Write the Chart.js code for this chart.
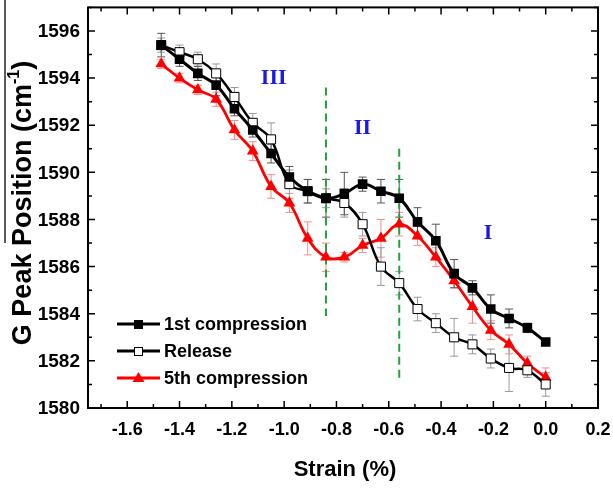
<!DOCTYPE html>
<html>
<head>
<meta charset="utf-8">
<script src="https://cdn.jsdelivr.net/npm/chart.js@4.4.1/dist/chart.umd.min.js"></script>
<style>
  html, body { margin: 0; padding: 0; background: #fff; }
  #wrap { width: 613px; height: 489px; }
</style>
</head>
<body>
<div id="wrap"><canvas id="gpeak" width="613" height="489"></canvas></div>
<script>
// strain values (%) shared by all three curves
const strain = [-1.47, -1.40, -1.33, -1.26, -1.19, -1.12, -1.05, -0.98, -0.91, -0.84, -0.77,
                -0.70, -0.63, -0.56, -0.49, -0.42, -0.35, -0.28, -0.21, -0.14, -0.07, 0.00];

// G peak position (cm-1)
const firstComp = [1595.4, 1594.8, 1594.2, 1593.7, 1592.7, 1591.8, 1590.8, 1589.8, 1589.2, 1588.9, 1589.1,
                   1589.5, 1589.2, 1588.9, 1587.9, 1587.1, 1585.7, 1585.1, 1584.2, 1583.8, 1583.4, 1582.8];
const release   = [1595.4, 1595.1, 1594.8, 1594.2, 1593.2, 1592.1, 1591.4, 1589.5, 1589.2, 1588.9, 1588.7,
                   1587.8, 1586.0, 1585.3, 1584.2, 1583.6, 1583.0, 1582.7, 1582.1, 1581.7, 1581.6, 1581.0];
const fifthComp = [1594.6, 1594.0, 1593.5, 1593.1, 1591.8, 1590.9, 1589.4, 1588.7, 1587.2, 1586.4, 1586.4,
                   1586.9, 1587.2, 1587.8, 1587.3, 1586.4, 1585.4, 1584.3, 1583.3, 1582.7, 1581.9, 1581.3];

// error bar half-heights
const firstErr = [0.5, 0.3, 0.3, 0.45, 0.3, 0.3, 0.4, 0.45, 0.5, 0.8, 0.9,
                  0.3, 0.5, 0.8, 0.6, 0.7, 0.6, 0.3, 0.6, 0.4, 0.2, 0.1];
const releaseErr = [0.3, 0.3, 0.3, 0.4, 0.4, 0.4, 0.7, 0.6, 0.5, 0.4, 0.6,
                    0.5, 0.8, 0.5, 0.5, 0.4, 0.8, 0.4, 0.4, 1.0, 0.3, 0.5];
const fifthErr = [0.2, 0.2, 0.2, 0.3, 0.4, 0.4, 0.5, 0.4, 0.7, 0.6, 0.2,
                  0.3, 0.8, 0.5, 0.4, 0.4, 0.3, 0.7, 0.4, 0.4, 0.3, 0.4];

const seriesNames = ["1st compression", "Release", "5th compression"];

// axis ticks
const xTicks = [-1.6, -1.4, -1.2, -1.0, -0.8, -0.6, -0.4, -0.2, 0.0, 0.2];
const xMinor = [-1.7, -1.5, -1.3, -1.1, -0.9, -0.7, -0.5, -0.3, -0.1, 0.1];
const yTicks = [1580, 1582, 1584, 1586, 1588, 1590, 1592, 1594, 1596];
const yMinor = [1581, 1583, 1585, 1587, 1589, 1591, 1593, 1595, 1597];

// region markers: dashed boundaries and roman numerals
const boundaries = [
    { x: -0.84, from: 1583.9, to: 1593.6 },
    { x: -0.56, from: 1581.2, to: 1591.0 }
];
const regions = [
    { text: "III", x: -1.04, y: 1594.0 },
    { text: "II", x: -0.70, y: 1591.85 },
    { text: "I", x: -0.22, y: 1587.4 }
];

const SANS = "'Liberation Sans', Arial, sans-serif";
const SERIF = "'Liberation Serif', 'Times New Roman', serif";

function pts(ys) {
    return strain.map((x, i) => ({ x: x, y: ys[i] }));
}

const overlay = {
    id: "overlay",
    beforeDatasetsDraw(chart) {
        const ctx = chart.ctx;
        const xs = chart.scales.x, ys = chart.scales.y;
        // error bars under the markers
        const bars = [
            { vals: fifthComp, err: fifthErr, color: "#f58c8c" },
            { vals: release, err: releaseErr, color: "#9a9a9a" },
            { vals: firstComp, err: firstErr, color: "#555" }
        ];
        ctx.save();
        ctx.lineWidth = 1;
        bars.forEach(b => {
            ctx.strokeStyle = b.color;
            strain.forEach((s, i) => {
                const px = xs.getPixelForValue(s);
                const top = ys.getPixelForValue(b.vals[i] + b.err[i]);
                const bot = ys.getPixelForValue(b.vals[i] - b.err[i]);
                ctx.beginPath();
                ctx.moveTo(px, top); ctx.lineTo(px, bot);
                ctx.moveTo(px - 4, top); ctx.lineTo(px + 4, top);
                ctx.moveTo(px - 4, bot); ctx.lineTo(px + 4, bot);
                ctx.stroke();
            });
        });
        // green dashed boundaries
        ctx.strokeStyle = "#23a33a";
        ctx.lineWidth = 2;
        ctx.setLineDash([8, 5]);
        boundaries.forEach(b => {
            const px = xs.getPixelForValue(b.x);
            ctx.beginPath();
            ctx.moveTo(px, ys.getPixelForValue(b.to));
            ctx.lineTo(px, ys.getPixelForValue(b.from));
            ctx.stroke();
        });
        ctx.restore();
    },
    afterDraw(chart) {
        const ctx = chart.ctx;
        const a = chart.chartArea;
        const xs = chart.scales.x, ys = chart.scales.y;
        ctx.save();

        // frame
        ctx.strokeStyle = "#000";
        ctx.lineWidth = 2;
        ctx.strokeRect(a.left, a.top, a.right - a.left, a.bottom - a.top);

        // inward ticks on all four sides
        ctx.lineWidth = 1.5;
        ctx.beginPath();
        const xt = (v, len) => {
            const px = xs.getPixelForValue(v);
            ctx.moveTo(px, a.bottom); ctx.lineTo(px, a.bottom - len);
            ctx.moveTo(px, a.top); ctx.lineTo(px, a.top + len);
        };
        const yt = (v, len) => {
            const py = ys.getPixelForValue(v);
            ctx.moveTo(a.left, py); ctx.lineTo(a.left + len, py);
            ctx.moveTo(a.right, py); ctx.lineTo(a.right - len, py);
        };
        xTicks.forEach(v => xt(v, 7));
        xMinor.forEach(v => xt(v, 4));
        yTicks.forEach(v => yt(v, 7));
        yMinor.forEach(v => yt(v, 4));
        ctx.stroke();

        // tick labels
        ctx.fillStyle = "#000";
        ctx.font = "bold 18px " + SANS;
        ctx.textAlign = "center";
        ctx.textBaseline = "middle";
        xTicks.forEach(v => ctx.fillText(v.toFixed(1), xs.getPixelForValue(v), a.bottom + 22));
        ctx.font = "bold 19px " + SANS;
        ctx.textAlign = "right";
        yTicks.forEach(v => ctx.fillText(String(v), a.left - 8, ys.getPixelForValue(v) + 1));

        // region numerals
        ctx.fillStyle = "#1a1ae6";
        ctx.font = "bold 22px " + SERIF;
        ctx.textAlign = "center";
        regions.forEach(r => {
            ctx.fillText(r.text, xs.getPixelForValue(r.x), ys.getPixelForValue(r.y));
        });

        // legend
        const rows = [324, 351, 378];
        const colors = ["#000", "#000", "#ff0000"];
        const styles = ["rect", "openrect", "triangle"];
        rows.forEach((ry, i) => {
            ctx.strokeStyle = colors[i];
            ctx.lineWidth = 3;
            ctx.beginPath();
            ctx.moveTo(117, ry); ctx.lineTo(160, ry);
            ctx.stroke();
            if (styles[i] === "rect") {
                ctx.fillStyle = "#000";
                ctx.fillRect(134, ry - 4, 9, 9);
            } else if (styles[i] === "openrect") {
                ctx.fillStyle = "#fff";
                ctx.fillRect(134, ry - 4, 9, 9);
                ctx.lineWidth = 1;
                ctx.strokeRect(134.5, ry - 3.5, 8, 8);
            } else {
                ctx.fillStyle = "#ff0000";
                ctx.beginPath();
                ctx.moveTo(138.5, ry - 6); ctx.lineTo(144.5, ry + 4); ctx.lineTo(132.5, ry + 4);
                ctx.closePath();
                ctx.fill();
            }
            ctx.fillStyle = "#000";
            ctx.font = "bold 18px " + SANS;
            ctx.textAlign = "left";
            ctx.fillText(seriesNames[i], 164, ry + 1);
        });

        // x title
        ctx.font = "bold 22px " + SANS;
        ctx.textAlign = "center";
        ctx.fillText("Strain (%)", 345, 470);

        // y title with superscript
        ctx.translate(24, 203);
        ctx.rotate(-Math.PI / 2);
        const main = "G Peak Position (cm";
        const sup = "-1";
        const close = ")";
        ctx.font = "bold 27px " + SANS;
        const w1 = ctx.measureText(main).width;
        const w3 = ctx.measureText(close).width;
        ctx.font = "bold 16px " + SANS;
        const w2 = ctx.measureText(sup).width;
        let x0 = -(w1 + w2 + w3) / 2;
        ctx.textAlign = "left";
        ctx.font = "bold 27px " + SANS;
        ctx.fillText(main, x0, 0);
        ctx.font = "bold 16px " + SANS;
        ctx.fillText(sup, x0 + w1, -9);
        ctx.font = "bold 27px " + SANS;
        ctx.fillText(close, x0 + w1 + w2, 0);
        ctx.restore();

        // thin vertical line at the left edge of the figure
        ctx.save();
        ctx.strokeStyle = "#222";
        ctx.lineWidth = 1.5;
        ctx.beginPath();
        ctx.moveTo(5, 0); ctx.lineTo(5, 243);
        ctx.stroke();
        ctx.restore();
    }
};

new Chart(document.getElementById("gpeak"), {
    type: "line",
    data: {
        datasets: [
            {
                label: seriesNames[0],
                data: pts(firstComp),
                borderColor: "#000",
                borderWidth: 3,
                pointStyle: "rect",
                pointRadius: 6.8,
                pointBackgroundColor: "#000",
                pointBorderColor: "#000",
                pointBorderWidth: 0,
                tension: 0.4
            },
            {
                label: seriesNames[1],
                data: pts(release),
                borderColor: "#000",
                borderWidth: 2.5,
                pointStyle: "rect",
                pointRadius: 6.4,
                pointBackgroundColor: "#fff",
                pointBorderColor: "#000",
                pointBorderWidth: 1,
                tension: 0.4
            },
            {
                label: seriesNames[2],
                data: pts(fifthComp),
                borderColor: "#ff0000",
                borderWidth: 2.8,
                pointStyle: "triangle",
                pointRadius: 6.8,
                pointBackgroundColor: "#ff0000",
                pointBorderColor: "#ff0000",
                pointBorderWidth: 0,
                tension: 0.4
            }
        ]
    },
    options: {
        responsive: false,
        animation: false,
        layout: { padding: { top: 4, right: 15, left: 0, bottom: 0 } },
        plugins: {
            legend: { display: false },
            tooltip: { enabled: false }
        },
        scales: {
            x: {
                type: "linear",
                min: -1.75,
                max: 0.2,
                afterBuildTicks: s => { s.ticks = xTicks.map(v => ({ value: v })); },
                afterFit: s => { s.height = 81; },
                grid: { display: false, drawTicks: false },
                border: { display: false },
                ticks: { display: false }
            },
            y: {
                type: "linear",
                min: 1580,
                max: 1597,
                afterBuildTicks: s => { s.ticks = yTicks.map(v => ({ value: v })); },
                afterFit: s => { s.width = 88; },
                grid: { display: false, drawTicks: false },
                border: { display: false },
                ticks: { display: false }
            }
        }
    },
    plugins: [overlay]
});
</script>
</body>
</html>
